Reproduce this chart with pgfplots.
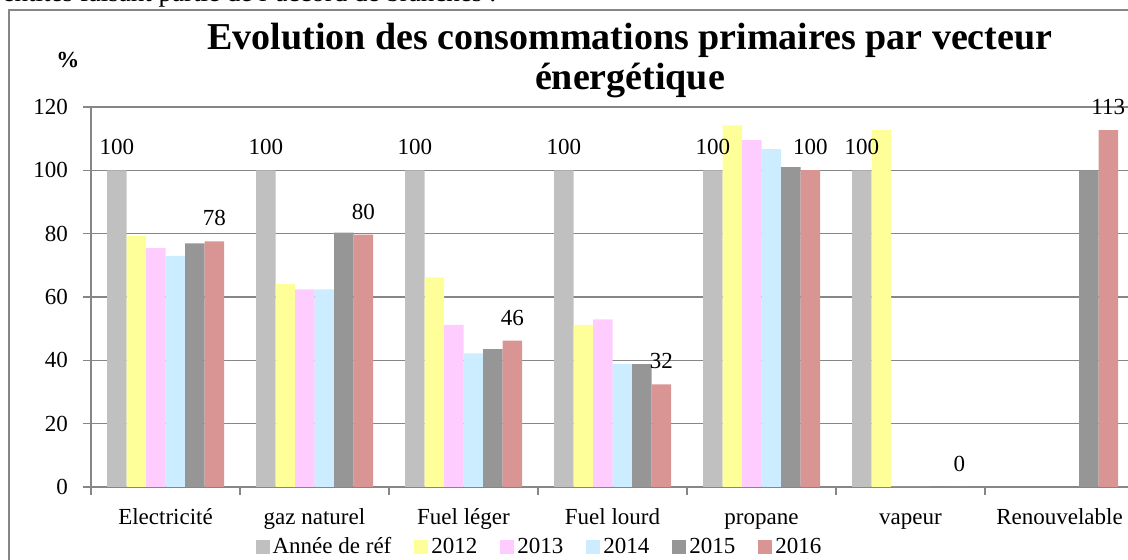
\documentclass[border=0pt]{standalone}
\usepackage{fontspec}
\setmainfont{Liberation Serif}
\usepackage{pgfplots}
\pgfplotsset{compat=1.18}
\definecolor{cref}{RGB}{192,192,192}
\definecolor{c12}{RGB}{255,255,153}
\definecolor{c13}{RGB}{255,204,255}
\definecolor{c14}{RGB}{204,236,255}
\definecolor{c15}{RGB}{150,150,150}
\definecolor{c16}{RGB}{217,149,148}
\definecolor{gridgray}{RGB}{134,134,134}
\begin{document}
\begin{tikzpicture}[font=\fontsize{11.5}{13.8}\selectfont]
\path[use as bounding box] (-45.5pt,-36.5pt) rectangle (518.5pt,243.5pt);
\draw[gridgray, line width=0.6pt] (-41pt,-60pt) rectangle (600pt,238.5pt);
\node[anchor=base east, inner sep=0pt] at (203pt,242.5pt) {\fontsize{13.5}{16}\selectfont des entités faisant partie de l'accord de branches :};
\node[anchor=base, inner sep=0pt, font=\fontsize{19}{22}\selectfont\bfseries] at (269.5pt,218.5pt) {Evolution des consommations primaires par vecteur};
\node[anchor=base, inner sep=0pt, font=\fontsize{19}{22}\selectfont\bfseries] at (269.5pt,198.5pt) {énergétique};
\node[anchor=base, inner sep=0pt, font=\fontsize{11.5}{13.8}\selectfont\bfseries] at (-11.5pt,209.5pt) {\%};
\begin{axis}[
  at={(0pt,0pt)}, anchor=south west,
  width=521.5pt, height=190pt, scale only axis,
  xmin=-0.5, xmax=6.5, ymin=0, ymax=120,
  clip=false,
  ybar=0pt, bar width=9.75pt,
  xtick={0,...,6},
  xticklabels={Electricité, gaz naturel, Fuel léger, Fuel lourd, propane, vapeur, Renouvelable},
  minor xtick={-0.5,0.5,...,6.5},
  ytick={0,20,...,120},
  axis x line*=bottom, axis y line*=left,
  ymajorgrids,
  major grid style={draw=gridgray, line width=0.6pt},
  axis line style={draw=gridgray, line width=0.6pt},
  tick align=outside,
  major tick length=4pt, minor tick length=4pt,
  major x tick style={draw=none},
  minor x tick style={draw=gridgray, line width=0.6pt},
  ytick style={draw=gridgray, line width=0.6pt},
  /pgf/number format/assume math mode=true,
  ticklabel style={font=\fontsize{11.5}{13.8}\selectfont},
  xticklabel style={anchor=base, yshift=-14.8pt},
  yticklabel style={xshift=-4pt},
  every node near coord/.append style={anchor=center, yshift=11.5pt, font=\fontsize{11.5}{13.8}\selectfont, black},
  nodes near coords={\pgfmathprintnumber[fixed,precision=0]{\pgfplotspointmeta}},
  legend style={at={(0.4305,-0.158)}, anchor=center, legend columns=6, draw=none, fill=none,
    font=\fontsize{11.5}{13.8}\selectfont, nodes={inner sep=1.5pt},
    /tikz/every even column/.append style={column sep=10pt}},
  legend image code/.code={\draw[#1,draw=none] (0pt,-3.5pt) rectangle (7pt,3.5pt);},
]
\addplot[fill=cref, draw=none] coordinates {(0,100)(1,100)(2,100)(3,100)(4,100)(5,100)};
\addplot[fill=c12, draw=none, nodes near coords=] coordinates {(0,79.3)(1,64.1)(2,66.2)(3,51.2)(4,114.2)(5,112.7)};
\addplot[fill=c13, draw=none, nodes near coords=] coordinates {(0,75.4)(1,62.4)(2,51.2)(3,52.9)(4,109.5)(5,0)};
\addplot[fill=c14, draw=none, nodes near coords=] coordinates {(0,73.0)(1,62.4)(2,42.2)(3,38.8)(4,106.7)(5,0)};
\addplot[fill=c15, draw=none, nodes near coords=] coordinates {(0,76.9)(1,80.3)(2,43.5)(3,38.8)(4,101.0)(5,0)(6,100)};
\addplot[fill=c16, draw=none] coordinates {(0,77.6)(1,79.7)(2,46.2)(3,32.4)(4,100.1)(5,0)(6,112.7)};
\legend{Année de réf, 2012, 2013, 2014, 2015, 2016}
\end{axis}
\end{tikzpicture}
\end{document}
